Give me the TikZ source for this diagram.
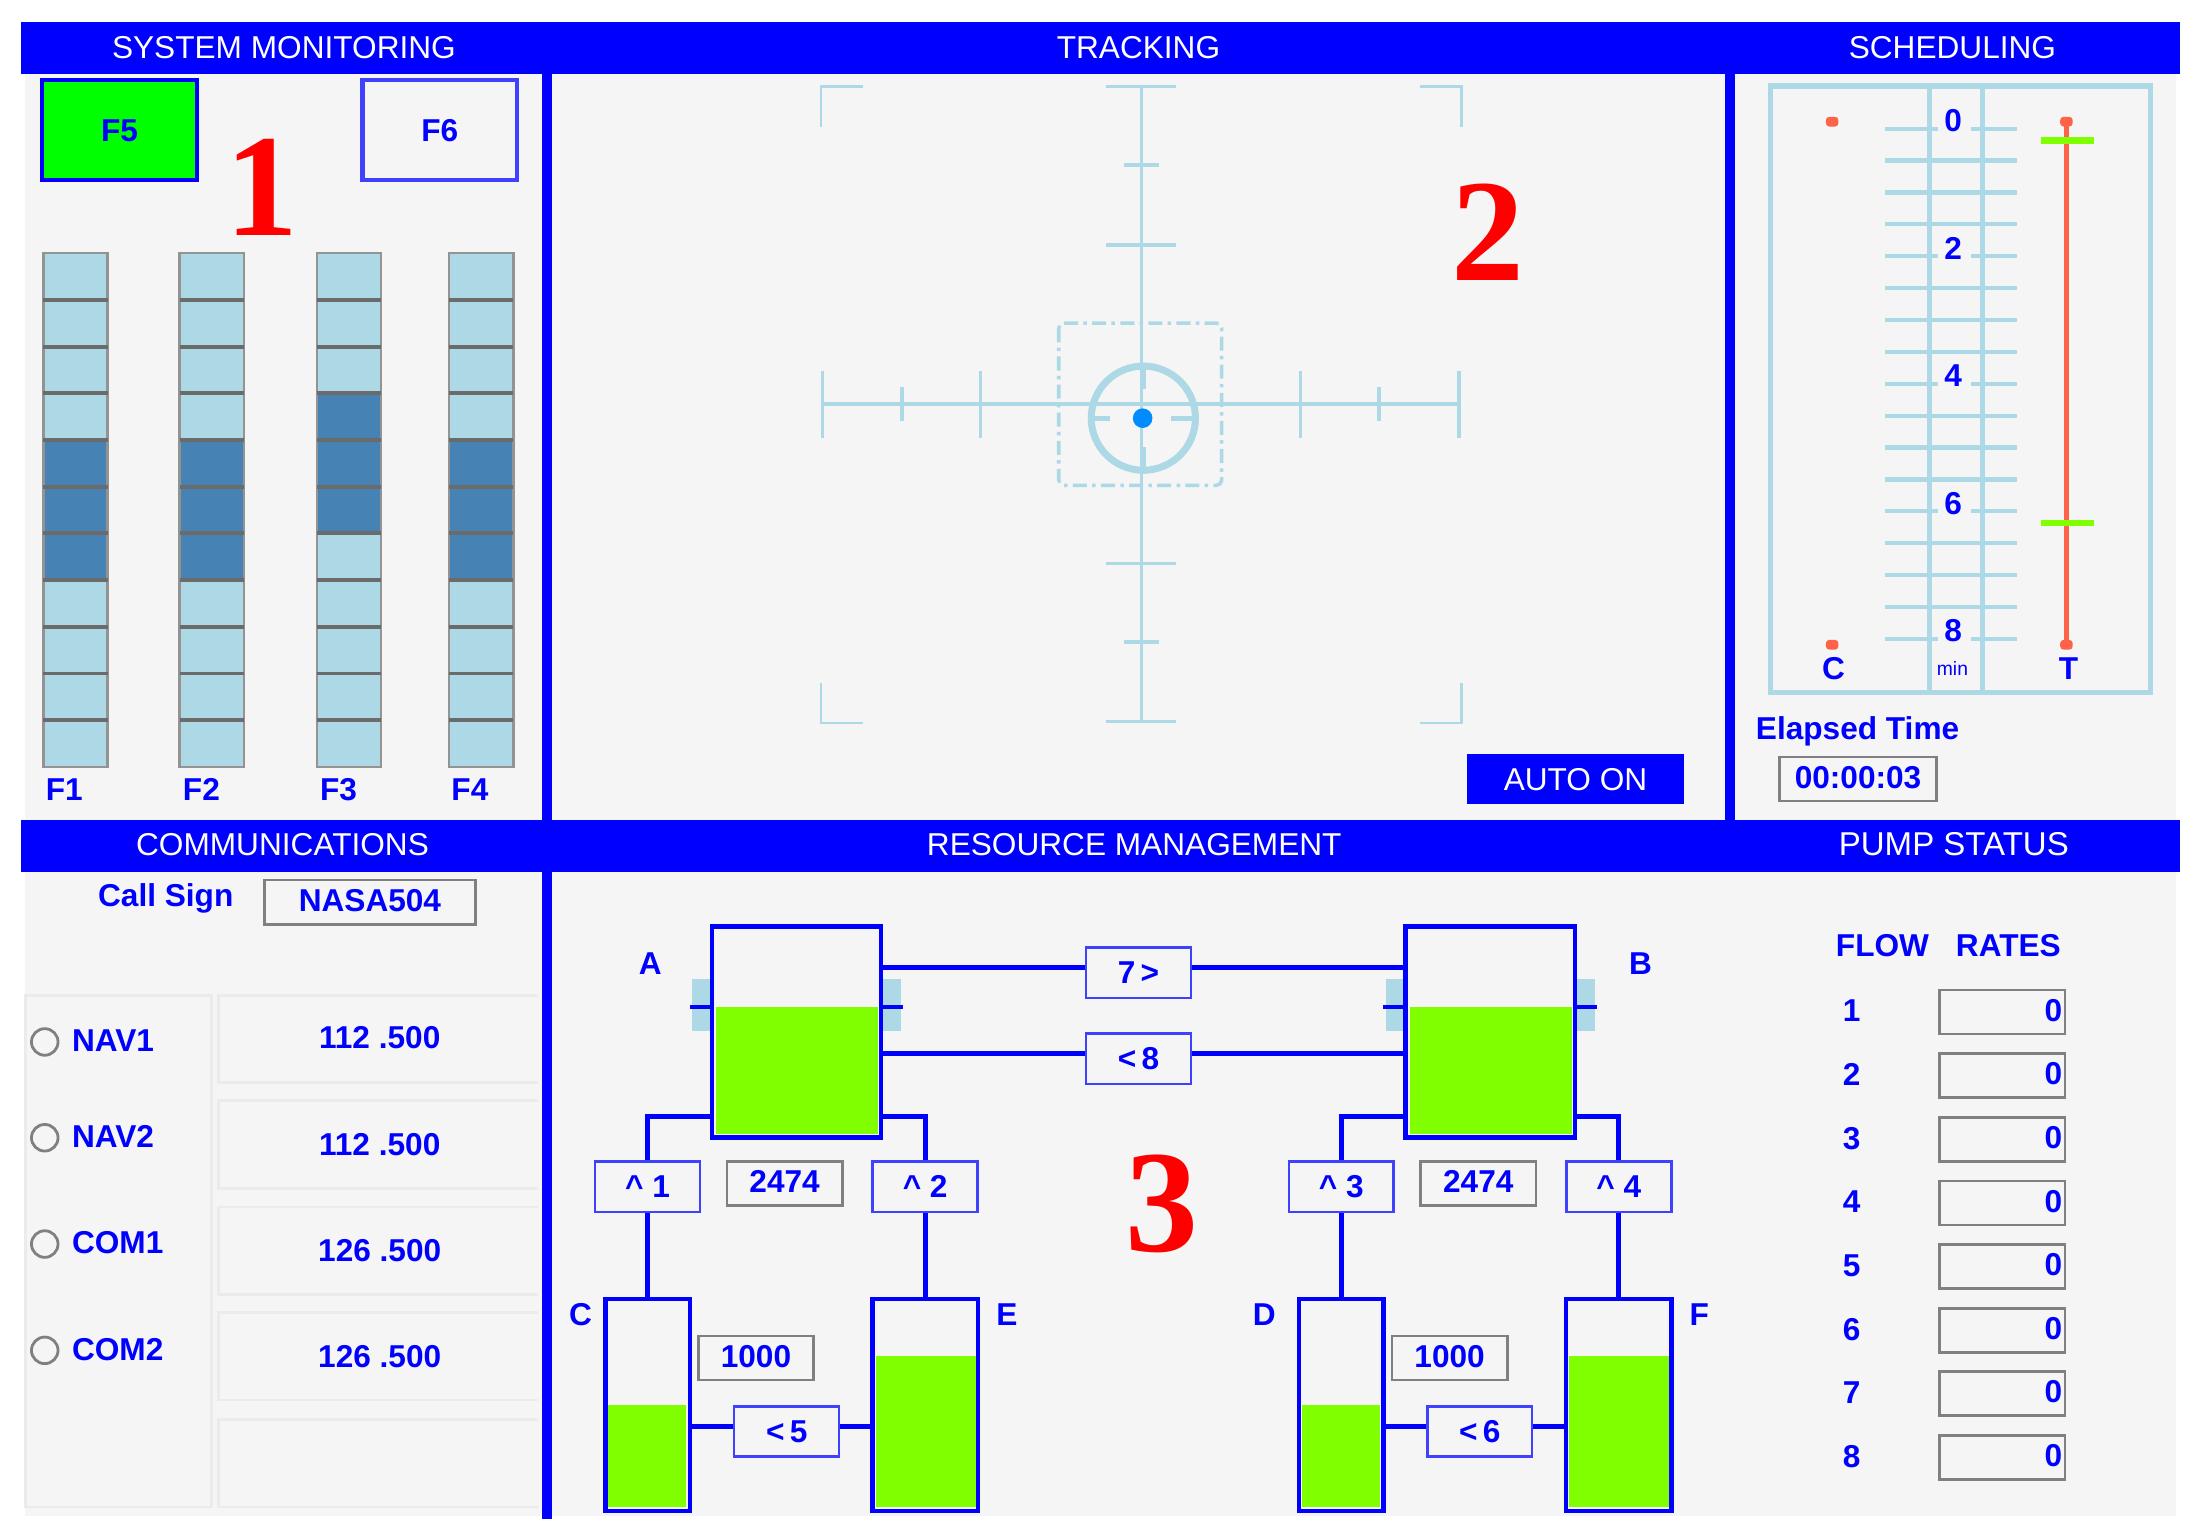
\documentclass[tikz,border=0pt]{standalone}
\usepackage{fontspec}
\setmainfont{Liberation Sans}
\newfontfamily\bignum{Liberation Serif}
\def\u{0.013986cm}
\definecolor{panelbg}{HTML}{F5F5F5}
\definecolor{barblue}{HTML}{0000FF}
\definecolor{softblue}{HTML}{4040FF}
\definecolor{lineblue}{HTML}{ADD8E6}
\definecolor{darkcell}{HTML}{4682B4}
\definecolor{levelgreen}{HTML}{7FFF00}
\definecolor{redline}{HTML}{FF6347}
\tikzset{
    label/.style={inner sep=0pt, text=barblue, font=\bfseries\fontsize{9}{10}\selectfont, text height=6.4pt, text depth=0pt},
    plain/.style={label, yshift=.4pt},
    headtext/.style={inner sep=0pt, text=white, font=\fontsize{9}{10}\selectfont, text height=6.4pt, text depth=0pt},
    bigdigit/.style={inner sep=0pt, text=red, font=\bignum\bfseries\fontsize{41.5}{46}\selectfont},
    grid line/.style={draw=lineblue, line width=1pt},
    corner line/.style={draw=lineblue, line width=.7pt},
    sched tick/.style={draw=lineblue, line width=1.2pt},
    ring line/.style={draw=lineblue, line width=1.5pt},
    cell/.style={draw=gray!85, line width=.7pt},
    divider/.style={draw=black!58, line width=1.1pt},
    pipe/.style={draw=barblue, line width=1.4pt},
    tank/.style={draw=barblue, line width=1.3pt, inner sep=0pt},
    pump/.style={label, draw=softblue, fill=panelbg, line width=.7pt, minimum width=75*\u, minimum height=36*\u},
    readout/.style={label, draw=gray, line width=.8pt, minimum height=31.5*\u, text depth=1.2pt},
    faintbox/.style={draw=black!8, line width=.8pt},
    radio/.style={circle, draw=gray, line width=.8pt, inner sep=0pt, minimum size=19*\u},
    reddot/.style={fill=redline, rounded corners=1pt}
}
\begin{document}
\begin{tikzpicture}[x=\u, y=-\u]
    \useasboundingbox (0,0) rectangle (1568,1100.4);
    \fill[white] (0,0) rectangle (1568,1100.4);
    \fill[panelbg] (18,18) rectangle (1556,1084);

    % header bars and dividers
    \fill[barblue] (15,15.5) rectangle (1559,53);
    \fill[barblue] (15,586) rectangle (1559,623.5);
    \fill[barblue] (387.5,53) rectangle (394.5,1086);
    \fill[barblue] (1233.5,53) rectangle (1240.5,586);

    \node[headtext] (hSys) at (203,34) {SYSTEM MONITORING};
    \node[headtext] (hTrack) at (814,34) {TRACKING};
    \node[headtext] (hSched) at (1396,34) {SCHEDULING};
    \node[headtext] (hComm) at (202,604) {COMMUNICATIONS};
    \node[headtext] (hRes) at (811,604) {RESOURCE MANAGEMENT};
    \node[headtext, font=\fontsize{9.4}{10}\selectfont] (hPump) at (1397,604) {PUMP STATUS};

    \node[bigdigit] (one) at (187,134) {1};
    \node[bigdigit] (two) at (1064,166) {2};
    \node[bigdigit] (three) at (831,861) {3};

    % system monitoring
    \node[label, draw=barblue, fill=green, line width=1.2pt, minimum width=110.5*\u, minimum height=71.5*\u] (F5) at (85.5,93) {F5};
    \node[label, draw=softblue, line width=1.2pt, minimum width=110.5*\u, minimum height=71.5*\u] (F6) at (314.5,93) {F6};

    \foreach \x/\first/\name [count=\c] in {31/4/F1, 128.5/4/F2, 226.5/3/F3, 321/4/F4} {
        \foreach \i in {0,...,10} {
            \pgfmathsetmacro{\y}{181+33.4*\i}
            \pgfmathtruncatemacro{\dark}{(\i>=\first)&&(\i<\first+3) ? 1 : 0}
            \ifnum\dark=1
                \draw[cell, fill=darkcell] (\x,\y) rectangle ++(46,33.4);
            \else
                \draw[cell, fill=lineblue] (\x,\y) rectangle ++(46,33.4);
            \fi
            \ifnum\i>0
                \draw[divider] (\x,\y) -- ++(46,0);
            \fi
        }
    }
    \node[plain] (f1) at (46,565) {F1};
    \node[plain] (f2) at (144,565) {F2};
    \node[plain] (f3) at (242,565) {F3};
    \node[plain] (f4) at (336,565) {F4};

    % tracking
    \draw[grid line] (816,62) -- (816,516);
    \draw[grid line] (588,289) -- (1043,289);
    \foreach \y/\w in {62/25, 118/12.5, 175/25, 403/25, 459/12.5, 516/25}
        \draw[grid line] (816-\w,\y) -- (816+\w,\y);
    \foreach \x/\h in {588/24, 645/12, 701/24, 930/24, 986/12, 1043/24}
        \draw[grid line] (\x,289-\h) -- (\x,289+\h);
    \draw[corner line] (617,62) -- (587,62) -- (587,91);
    \draw[corner line] (1015,62) -- (1045,62) -- (1045,91);
    \draw[corner line] (587,488) -- (587,517) -- (617,517);
    \draw[corner line] (1045,488) -- (1045,517) -- (1015,517);
    \draw[lineblue, line width=1pt, rounded corners=1.5pt, dash pattern=on 4pt off 1.5pt on 1pt off 1.5pt] (757,231) rectangle (873.5,347);
    \node[circle, draw=lineblue, line width=2pt, inner sep=0pt, minimum size=74.5*\u] (ring) at (817.5,299) {};
    \draw[ring line] (ring.west) -- ++(16,0);
    \draw[ring line] (ring.east) -- ++(-20,0);
    \draw[ring line] (ring.north) -- ++(0,19);
    \draw[ring line] (ring.south) -- ++(0,-19);
    \node[circle, fill=blue!45!cyan, inner sep=0pt, minimum size=14*\u] (dot) at (817,299) {};
    \node[headtext, fill=barblue, minimum width=155*\u, minimum height=36*\u] (auto) at (1126.5,557) {AUTO ON};

    % scheduling
    \draw[lineblue, line width=1.5pt] (1266,61.5) rectangle (1537.5,495);
    \draw[lineblue, line width=1.5pt] (1379.5,61.5) -- (1379.5,495);
    \draw[lineblue, line width=1.5pt] (1417.5,61.5) -- (1417.5,495);
    \foreach \i in {0,...,16} {
        \pgfmathsetmacro{\y}{92+22.8*\i}
        \pgfmathtruncatemacro{\rest}{mod(\i,4)}
        \ifnum\rest=0
            \draw[sched tick] (1348,\y) -- (1386,\y);
            \draw[sched tick] (1409,\y) -- (1442,\y);
        \else
            \draw[sched tick] (1348,\y) -- (1442,\y);
        \fi
    }
    \foreach \i/\t in {0/0, 4/2, 8/4, 12/6, 16/8}
        \node[plain] (tick\t) at (1396.5,{87+22.8*\i}) {\t};
    \fill[reddot] (1305.5,83.5) rectangle (1314.5,90.5);
    \fill[reddot] (1305.5,457.5) rectangle (1314.5,464.5);
    \fill[reddot] (1473,83.5) rectangle (1482,90.5);
    \fill[reddot] (1473,457.5) rectangle (1482,464.5);
    \draw[redline, line width=1.3pt] (1477.5,87) -- (1477.5,461);
    \draw[levelgreen, line width=1.8pt] (1459,100.5) -- (1497,100.5);
    \draw[levelgreen, line width=1.8pt] (1459,374) -- (1497,374);
    \node[plain] (c) at (1311,479) {C};
    \node[plain, font=\fontsize{5.5}{6}\selectfont, text height=4pt] (min) at (1396,479) {min};
    \node[plain] (t) at (1479,479) {T};
    \node[plain, anchor=west] (elapsed) at (1255,522) {Elapsed Time};
    \node[readout, minimum width=112*\u] (clock) at (1328.5,557) {00:00:03};

    % communications
    \node[plain] (call) at (118.5,641) {Call Sign};
    \node[readout, minimum width=151*\u] (sign) at (264.5,645) {NASA504};
    \draw[faintbox] (18,711.5) rectangle (151,1077.5);
    \foreach \y in {711.5, 787, 863, 938.5, 1015}
        \draw[faintbox] (385,\y) -- (156.5,\y) -- (156.5,\y+62.5) -- (385,\y+62.5);
    \foreach \y/\t [count=\c] in {745/NAV1, 813.5/NAV2, 889.5/COM1, 965.5/COM2} {
        \node[radio] (radio\c) at (32,\y) {};
        \node[plain, anchor=west] (name\c) at (51,\y) {\t};
    }
    \node[plain] (freq1) at (271.5,743) {112 .500};
    \node[plain] (freq2) at (271.5,819) {112 .500};
    \node[plain] (freq3) at (271.5,895) {126 .500};
    \node[plain] (freq4) at (271.5,971) {126 .500};

    % resource management
    \foreach \dx/\big/\lo/\hi in {0/A/C/E, 496/B/D/F} {
        \begin{scope}[xshift=\dx*\u]
            \fill[lineblue] (495,700) rectangle (508,737.5);
            \fill[lineblue] (631,700) rectangle (644.5,737.5);
            \draw[pipe] (493,720) -- (508,720);
            \draw[pipe] (631,720) -- (646,720);
            \fill[levelgreen] (512,720) rectangle (628,810.5);
            \fill[levelgreen] (435,1004.5) rectangle (490.5,1077.5);
            \fill[levelgreen] (626,969.5) rectangle (697.5,1077.5);
            \node[tank, minimum width=121*\u, minimum height=151*\u] (tank\big) at (569.5,737.8) {};
            \node[tank, minimum width=60.5*\u, minimum height=151.5*\u] (tank\lo) at (463,1004.5) {};
            \node[tank, minimum width=75.5*\u, minimum height=151.5*\u] (tank\hi) at (661.5,1004.5) {};
            \node[readout, minimum width=82.5*\u] (level\big) at (561,846) {2474};
            \node[readout, minimum width=82.5*\u] (level\lo) at (540.5,971) {1000};
        \end{scope}
    }
    \node[plain] (labA) at (465,690) {A};
    \node[plain] (labB) at (1173,690) {B};
    \node[plain] (labC) at (415,941) {C};
    \node[plain] (labD) at (904,941) {D};
    \node[plain] (labE) at (720,941) {E};
    \node[plain] (labF) at (1215,941) {F};

    \node[pump] (pump7) at (814,695.5) {7\,>};
    \node[pump] (pump8) at (814,757) {<\,8};
    \node[pump] (pump1) at (463,848.5) {\textasciicircum\ 1};
    \node[pump] (pump2) at (661.5,848.5) {\textasciicircum\ 2};
    \node[pump] (pump3) at (959,848.5) {\textasciicircum\ 3};
    \node[pump] (pump4) at (1157.5,848.5) {\textasciicircum\ 4};
    \node[pump] (pump5) at (562.5,1023.5) {<\,5};
    \node[pump] (pump6) at (1058,1023.5) {<\,6};

    \draw[pipe] (tankA.east |- 0,691.5) -- (pump7.west |- 0,691.5);
    \draw[pipe] (pump7.east |- 0,691.5) -- (tankB.west |- 0,691.5);
    \draw[pipe] (tankA.east |- 0,753) -- (pump8.west |- 0,753);
    \draw[pipe] (pump8.east |- 0,753) -- (tankB.west |- 0,753);
    \draw[pipe] (tankA.west |- 0,798) -| (pump1.north);
    \draw[pipe] (tankA.east |- 0,798) -| (pump2.north);
    \draw[pipe] (tankB.west |- 0,798) -| (pump3.north);
    \draw[pipe] (tankB.east |- 0,798) -| (pump4.north);
    \draw[pipe] (pump1) -- (tankC);
    \draw[pipe] (pump2) -- (tankE);
    \draw[pipe] (pump3) -- (tankD);
    \draw[pipe] (pump4) -- (tankF);
    \draw[pipe] (tankC.east |- 0,1020) -- (pump5.west |- 0,1020);
    \draw[pipe] (pump5.east |- 0,1020) -- (tankE.west |- 0,1020);
    \draw[pipe] (tankD.east |- 0,1020) -- (pump6.west |- 0,1020);
    \draw[pipe] (pump6.east |- 0,1020) -- (tankF.west |- 0,1020);

    % flow rates
    \node[plain] (flow) at (1346,677) {FLOW};
    \node[plain] (rates) at (1436,677) {RATES};
    \foreach \y [count=\c] in {723.6, 769.1, 814.6, 860.1, 905.6, 951.1, 996.6, 1042.1} {
        \node[plain] (num\c) at (1324,\y) {\c};
        \node[readout, minimum width=90*\u, text width=86*\u, align=right] (rate\c) at (1431.5,\y) {0};
    }
\end{tikzpicture}
\end{document}
